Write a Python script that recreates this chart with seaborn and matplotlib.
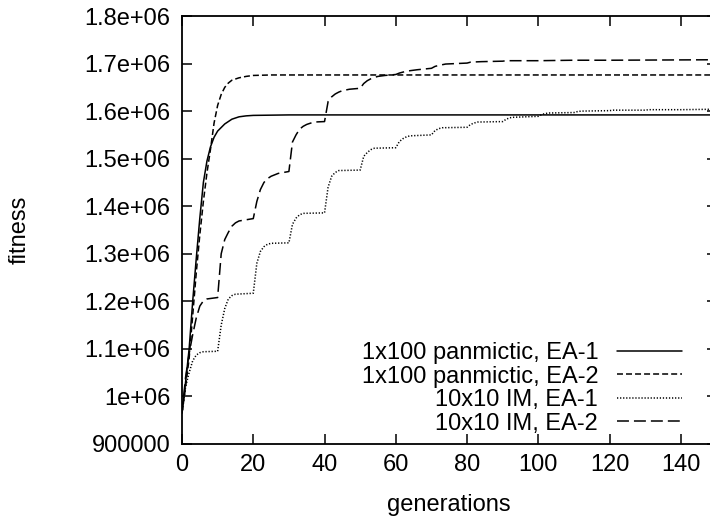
import matplotlib
matplotlib.use("Agg")
import matplotlib.pyplot as plt
import seaborn as sns
import pandas as pd

# ---------------- data ----------------
pan1_x = [0, 1, 2, 3, 4, 5, 6, 7, 8, 9, 10, 12, 14, 16, 18, 20, 30, 150]
pan1_y = [0.965e6, 1.03e6, 1.10e6, 1.20e6, 1.29e6, 1.375e6, 1.45e6, 1.495e6, 1.525e6,
          1.545e6, 1.558e6, 1.573e6, 1.583e6, 1.588e6, 1.590e6, 1.591e6, 1.592e6, 1.592e6]

pan2_x = [0, 1, 2, 3, 4, 5, 6, 7, 8, 9, 10, 11, 12, 13, 14, 16, 18, 20, 25, 150]
pan2_y = [0.965e6, 1.02e6, 1.08e6, 1.17e6, 1.26e6, 1.34e6, 1.41e6, 1.47e6, 1.52e6, 1.575e6,
          1.612e6, 1.635e6, 1.650e6, 1.659e6, 1.665e6, 1.670e6, 1.673e6, 1.675e6, 1.676e6, 1.676e6]

im1_x = [0, 1, 2, 3, 4, 5, 6, 10,
         11, 12, 13, 14, 15, 20,
         21, 22, 23, 24, 25, 30,
         31, 32, 33, 34, 40,
         41, 42, 43, 44, 50,
         51, 52, 53, 54, 60,
         61, 62, 63, 64, 70,
         71, 72, 73, 80,
         81, 82, 83, 90,
         91, 92, 93, 100,
         101, 102, 103, 110,
         111, 112, 120, 121, 130, 131, 140, 150]
im1_y = [0.965e6, 1.02e6, 1.05e6, 1.075e6, 1.087e6, 1.092e6, 1.094e6, 1.095e6,
         1.15e6, 1.185e6, 1.205e6, 1.212e6, 1.215e6, 1.217e6,
         1.28e6, 1.305e6, 1.315e6, 1.32e6, 1.322e6, 1.323e6,
         1.362e6, 1.375e6, 1.382e6, 1.385e6, 1.386e6,
         1.44e6, 1.463e6, 1.471e6, 1.475e6, 1.476e6,
         1.505e6, 1.513e6, 1.519e6, 1.522e6, 1.523e6,
         1.536e6, 1.542e6, 1.546e6, 1.548e6, 1.550e6,
         1.559e6, 1.563e6, 1.565e6, 1.566e6,
         1.572e6, 1.575e6, 1.577e6, 1.578e6,
         1.583e6, 1.586e6, 1.587e6, 1.589e6,
         1.593e6, 1.595e6, 1.596e6, 1.597e6,
         1.599e6, 1.600e6, 1.601e6, 1.602e6, 1.602e6, 1.603e6, 1.603e6, 1.604e6]

im2_x = [0, 1, 2, 3, 4, 5, 6, 7, 10,
         11, 12, 13, 14, 15, 16, 20,
         21, 22, 23, 24, 25, 27, 30,
         31, 32, 33, 34, 35, 37, 40,
         41, 42, 43, 44, 45, 47, 50,
         51, 52, 53, 54, 55, 57, 60,
         61, 62, 64, 66, 70,
         71, 72, 74, 80,
         81, 84, 90, 91, 100, 110, 120, 150]
im2_y = [0.965e6, 1.04e6, 1.09e6, 1.13e6, 1.165e6, 1.19e6, 1.201e6, 1.205e6, 1.208e6,
         1.30e6, 1.33e6, 1.345e6, 1.358e6, 1.365e6, 1.369e6, 1.374e6,
         1.41e6, 1.435e6, 1.45e6, 1.458e6, 1.463e6, 1.469e6, 1.473e6,
         1.535e6, 1.55e6, 1.562e6, 1.568e6, 1.572e6, 1.577e6, 1.578e6,
         1.62e6, 1.63e6, 1.636e6, 1.64e6, 1.643e6, 1.646e6, 1.648e6,
         1.658e6, 1.664e6, 1.668e6, 1.671e6, 1.673e6, 1.675e6, 1.677e6,
         1.680e6, 1.682e6, 1.685e6, 1.687e6, 1.690e6,
         1.694e6, 1.696e6, 1.699e6, 1.701e6,
         1.703e6, 1.704e6, 1.705e6, 1.706e6, 1.706e6, 1.707e6, 1.707e6, 1.708e6]

series_labels = ["1x100 panmictic, EA-1", "1x100 panmictic, EA-2",
                 "10x10 IM, EA-1", "10x10 IM, EA-2"]

x_ticks = [0, 20, 40, 60, 80, 100, 120, 140]
y_ticks = [900000, 1.0e6, 1.1e6, 1.2e6, 1.3e6, 1.4e6, 1.5e6, 1.6e6, 1.7e6, 1.8e6]
y_tick_labels = ["900000", "1e+06", "1.1e+06", "1.2e+06", "1.3e+06", "1.4e+06",
                 "1.5e+06", "1.6e+06", "1.7e+06", "1.8e+06"]

# ---------------- style ----------------
FS = 17
sns.set_style("white")
plt.rcParams["font.family"] = ["Liberation Sans", "DejaVu Sans"]
plt.rcParams.update({
    "lines.scale_dashes": False,
    "xtick.direction": "in", "ytick.direction": "in",
    "xtick.major.size": 7.2, "ytick.major.size": 7.2,
    "xtick.major.width": 1.1, "ytick.major.width": 1.1,
    "xtick.major.pad": 7, "ytick.major.pad": 8.5,
    "xtick.bottom": True, "xtick.top": True,
    "ytick.left": True, "ytick.right": True,
    "xtick.color": "black", "ytick.color": "black",
    "axes.edgecolor": "black", "axes.linewidth": 1.3,
})

fig = plt.figure(figsize=(7.10, 5.23), dpi=100)
ax = fig.add_axes([182 / 710, 1 - 444 / 523, (716.5 - 182) / 710, (444 - 16) / 523])
ax.set_axisbelow(False)

xs = [pan1_x, pan2_x, im1_x, im2_x]
ys = [pan1_y, pan2_y, im1_y, im2_y]
dash_styles = [None, (4.3, 2.2), (0.9, 1.3), (8.6, 3.6)]

for x, y, lab, d in zip(xs, ys, series_labels, dash_styles):
    df = pd.DataFrame({"generations": x, "fitness": y})
    sns.lineplot(data=df, x="generations", y="fitness", ax=ax, color="black",
                 linewidth=1.1, label=lab, sort=False)
    if d is not None:
        ax.lines[-1].set_dashes(d)

ax.set_xlim(0, 150)
ax.set_ylim(900000, 1.8e6)
ax.set_xticks(x_ticks, [str(t) for t in x_ticks])
ax.set_yticks(y_ticks, y_tick_labels)
for lab in ax.get_xticklabels() + ax.get_yticklabels():
    lab.set_fontsize(FS)
    lab.set_color("black")

ax.set_xlabel("generations", fontsize=FS, color="black")
ax.set_ylabel("fitness", fontsize=FS, color="black")
ax.xaxis.label.set_va("center")
ax.xaxis.set_label_coords(0.5, (444 - 505) / 428)
ax.yaxis.label.set_va("center")
ax.yaxis.label.set_ha("center")
ax.yaxis.set_label_coords((20 - 182) / 534.5, 0.5)

leg = ax.legend(loc="lower right", bbox_to_anchor=((682 - 182) / 534.5, 0.022),
                frameon=False, markerfirst=False, fontsize=FS,
                handlelength=2.75, handletextpad=0.8, labelspacing=0.06,
                borderpad=0, borderaxespad=0)
for h, d in zip(leg.get_lines(), dash_styles):
    if d is not None:
        h.set_dashes(d)
for t in leg.get_texts():
    t.set_color("black")

# draw once, then re-assert the tick marks on all four sides
fig.canvas.draw()
for t in ax.xaxis.get_major_ticks() + ax.yaxis.get_major_ticks():
    for tl in (t.tick1line, t.tick2line):
        tl.set_visible(True)
        tl.set_markersize(7.2)
        tl.set_markeredgewidth(1.1)
        tl.set_markeredgecolor("black")
        tl.set_zorder(3)
fig.canvas.draw()

fig.savefig("out.png", dpi=100)
